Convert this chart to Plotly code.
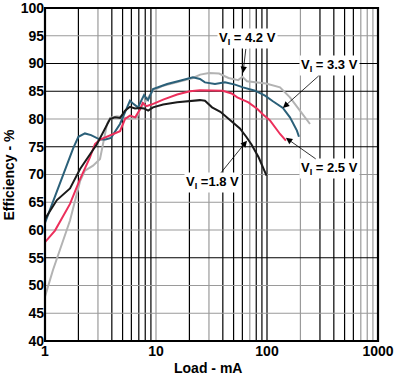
import numpy as np
import plotly.graph_objects as go

# ---------------- data ----------------
load_18 = [1, 1.28, 1.68, 2.07, 2.94, 3.85, 4.27, 4.74, 5.26, 5.83, 6.47, 7.17, 7.8, 8.5, 9.4,
           11.6, 15.5, 20.2, 24.9, 27.6, 32, 38, 48, 57, 65, 72.5, 84, 96, 99]
eff_18 = [62.0, 65.4, 67.5, 71.0, 75.5, 80.0, 80.3, 80.2, 81.5, 82.2, 81.9, 82.0, 81.9, 81.5, 82.1,
          82.6, 83.0, 83.3, 83.4, 83.3, 82.1, 81.3, 79.6, 78.3, 76.8, 75.4, 73.1, 70.5, 69.8]

load_25 = [1, 1.23, 1.68, 2.05, 2.54, 2.82, 3.13, 3.85, 4.74, 5.26, 5.83, 6.5, 7.2, 7.6, 8.2, 9.1,
           11.6, 15.5, 20.2, 24.9, 30, 40, 48, 54, 68, 82, 92, 106, 131, 148]
eff_25 = [57.8, 59.9, 64.7, 69.0, 73.1, 75.5, 76.3, 77.0, 77.8, 80.0, 80.6, 80.3, 81.8, 82.9, 82.3, 82.6,
          83.5, 84.4, 85.0, 85.2, 85.2, 85.1, 84.6, 83.9, 83.0, 81.8, 80.8, 79.8, 77.3, 76.1]

load_33 = [1, 1.1, 1.31, 1.51, 1.8, 2.0, 2.29, 2.6, 3.13, 3.5, 3.93, 4.74, 5.3, 5.83, 6.2, 6.88,
           7.8, 8.47, 9.4, 12.6, 16.4, 21.5, 24.9, 27.6, 34, 41.8, 51.5, 60.8, 78, 96, 113, 139, 161, 186, 194]
eff_33 = [61.3, 63.5, 67.5, 70.5, 74.8, 76.8, 77.4, 77.1, 76.3, 76.3, 76.6, 79.1, 81.5, 83.3, 82.8, 82.1,
          84.3, 83.4, 85.4, 86.3, 86.9, 87.5, 87.2, 86.6, 86.3, 86.6, 86.2, 85.7, 85.1, 84.2, 83.2, 82.0, 80.3, 77.9, 76.8]

load_42 = [1, 1.18, 1.68, 2.07, 2.29, 2.71, 3.13, 3.47, 3.62, 3.85, 4.45, 5.0, 5.83, 6.74, 7.17, 8.12,
           9.4, 11.6, 15.5, 21.5, 25, 30, 37, 45, 55, 60, 66, 98, 131, 161, 198, 244]
eff_42 = [48.0, 52.8, 61.7, 68.8, 70.7, 71.6, 72.8, 77.0, 79.1, 80.2, 80.5, 80.3, 80.0, 80.3, 81.8, 83.3,
          85.1, 86.0, 86.6, 87.4, 88.0, 88.3, 88.2, 87.4, 87.0, 87.6, 86.8, 86.4, 85.7, 83.9, 81.5, 79.1]

x_ticks = [1, 10, 100, 1000]
x_tick_labels = ["1", "10", "100", "1000"]
y_ticks = list(range(40, 101, 5))

# labels: (text, arrow tip (mA, %), label offset from tip in px)
labels = [
    ("V<sub>I</sub> = 4.2 V", (60.8, 88.3), (4, -34)),
    ("V<sub>I</sub> = 3.3 V", (139, 82.0), (47, -42)),
    ("V<sub>I</sub> = 2.5 V", (148, 76.6), (44, 31)),
    ("V<sub>I</sub> =1.8 V", (66, 76.1), (-34, 42)),
]

# ---------------- figure ----------------
fig = go.Figure()
series = [
    (load_42, eff_42, "#b3b3b3"),
    (load_33, eff_33, "#2b6079"),
    (load_25, eff_25, "#ec2f5b"),
    (load_18, eff_18, "#1a1a1a"),
]
for xs, ys, col in series:
    fig.add_trace(go.Scatter(x=xs, y=ys, mode="lines",
                             line=dict(color=col, width=2), showlegend=False,
                             hoverinfo="skip"))

shapes = []
# vertical grid lines
gray_v = {3, 10, 30, 70, 200, 700, 800, 900}
for dec in [1, 10, 100]:
    for m in range(2, 11):
        v = dec * m
        if v >= 1000:
            continue
        col = "#9a9a9a" if v in gray_v else "#000000"
        shapes.append(dict(type="line", xref="x", yref="paper", x0=v, x1=v,
                           y0=0, y1=1, line=dict(color=col, width=1.2), layer="below"))
# horizontal grid lines
black_h = {55, 75, 85, 90}
for v in range(45, 100, 5):
    col = "#000000" if v in black_h else "#9a9a9a"
    shapes.append(dict(type="line", xref="paper", yref="y", x0=0, x1=1, y0=v, y1=v,
                       line=dict(color=col, width=1.2), layer="below"))
# frame
shapes.append(dict(type="rect", xref="paper", yref="paper", x0=0, x1=1, y0=0, y1=1,
                   line=dict(color="#000000", width=2.2), layer="above"))

annotations = []
font_lbl = dict(family="Liberation Sans, Arial, sans-serif", size=13, color="#000000")
for text, (tx, ty), (ax, ay) in labels:
    annotations.append(dict(x=np.log10(tx), y=ty, xref="x", yref="y", text="<b>" + text + "</b>",
                            showarrow=True, arrowhead=2, arrowsize=1.6, arrowwidth=0.8,
                            arrowcolor="#000000", ax=ax, ay=ay, standoff=0,
                            bgcolor="#ffffff", font=font_lbl, borderpad=1))

tick_font = dict(family="Liberation Sans, Arial, sans-serif", size=14, color="#000000")
# axis titles
annotations.append(dict(text="<b>Load - mA</b>", xref="paper", yref="paper",
                        x=0.49, y=-0.08, yanchor="middle", xanchor="center",
                        showarrow=False, font=tick_font))
annotations.append(dict(text="<b>Efficiency - %</b>", xref="paper", yref="paper",
                        x=-0.111, y=0.5, xanchor="center", yanchor="middle", textangle=-90,
                        showarrow=False, font=tick_font))

fig.update_layout(
    width=405, height=377,
    margin=dict(l=45, r=27, t=8, b=36, pad=0),
    paper_bgcolor="#ffffff", plot_bgcolor="#ffffff",
    shapes=shapes, annotations=annotations,
    xaxis=dict(type="log", range=[0, 3], tickvals=x_ticks,
               ticktext=["<b>%s</b>" % t for t in x_tick_labels],
               showgrid=False, zeroline=False, showline=False,
               ticks="", tickfont=tick_font, automargin=False,
               ticklabeloverflow="allow"),
    yaxis=dict(range=[40, 100], tickvals=y_ticks,
               ticktext=["<b>%d</b>" % t for t in y_ticks],
               showgrid=False, zeroline=False, showline=False,
               ticks="", tickfont=tick_font, automargin=False,
               ticklabeloverflow="allow"),
)

fig.write_html("out.html", config={"displayModeBar": False},
               post_script="document.body.style.margin='0';document.body.style.overflow='hidden';")
